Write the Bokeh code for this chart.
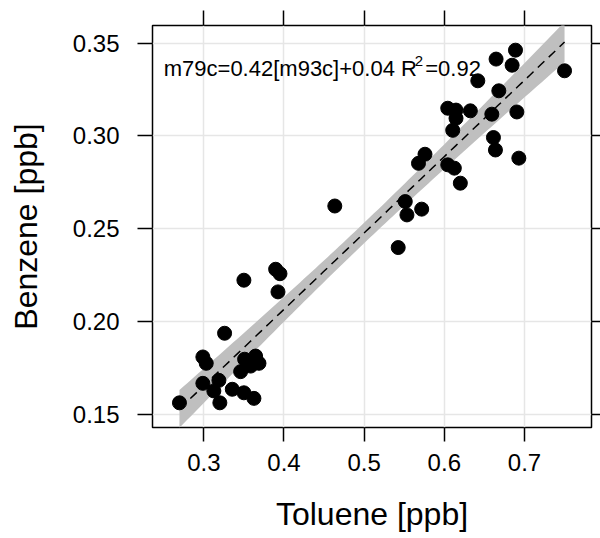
import numpy as np
from bokeh.plotting import figure
from bokeh.models import LinearAxis, Range1d, Label, CustomJSTickFormatter, FixedTicker, ColumnDataSource
from bokeh.embed import file_html
from bokeh.resources import INLINE

# Data
toluene = [0.6646, 0.6888, 0.6846, 0.7500, 0.6418, 0.6680, 0.6043, 0.6146, 0.6146, 0.6325,
           0.6593, 0.6905, 0.6105, 0.6613, 0.6638, 0.6930, 0.5759, 0.5678, 0.6043, 0.6125,
           0.6200, 0.4634, 0.5513, 0.5534, 0.5718, 0.5425, 0.3500, 0.3896, 0.3950, 0.3925,
           0.3259, 0.2988, 0.3030, 0.3509, 0.3646, 0.3688, 0.3584, 0.3459, 0.3188, 0.2988,
           0.3125, 0.3355, 0.3500, 0.3625, 0.3200, 0.2696]
benzene = [0.3414, 0.3462, 0.3381, 0.3351, 0.3297, 0.3243, 0.3149, 0.3139, 0.3095, 0.3135,
           0.3117, 0.3129, 0.3030, 0.2991, 0.2924, 0.2880, 0.2901, 0.2852, 0.2844, 0.2826,
           0.2745, 0.2622, 0.2646, 0.2574, 0.2605, 0.2398, 0.2222, 0.2281, 0.2257, 0.2159,
           0.1936, 0.1808, 0.1774, 0.1796, 0.1813, 0.1774, 0.1759, 0.1729, 0.1682, 0.1666,
           0.1625, 0.1634, 0.1615, 0.1585, 0.1561, 0.1561]
x_ticks = [0.3, 0.4, 0.5, 0.6, 0.7]
y_ticks = [0.15, 0.20, 0.25, 0.30, 0.35]
x_tick_labels = {0.3: "0.3", 0.4: "0.4", 0.5: "0.5", 0.6: "0.6", 0.7: "0.7"}
y_tick_labels = {0.15: "0.15", 0.2: "0.20", 0.25: "0.25", 0.3: "0.30", 0.35: "0.35"}
annotation_main = "m79c=0.42[m93c]+0.04 R"
annotation_sup = "2"
annotation_end = "=0.92"

x = np.array(toluene)
y = np.array(benzene)
n = len(x)

# linear fit with 95% confidence band
slope, intercept = np.polyfit(x, y, 1)
resid = y - (slope * x + intercept)
s = np.sqrt(np.sum(resid ** 2) / (n - 2))
xg = np.linspace(x.min(), x.max(), 100)
yg = slope * xg + intercept
se = s * np.sqrt(1.0 / n + (xg - x.mean()) ** 2 / np.sum((x - x.mean()) ** 2))
tval = 2.015
lower = yg - tval * se
upper = yg + tval * se

pad_x = 0.07 * (x.max() - x.min())
pad_y = 0.07 * (y.max() - y.min())

FONT = "Liberation Sans"

p = figure(width=600, height=538, output_backend="svg", toolbar_location=None,
           x_range=Range1d(x.min() - pad_x, x.max() + pad_x),
           y_range=Range1d(y.min() - pad_y, y.max() + pad_y),
           min_border_left=152, min_border_right=9, min_border_top=25, min_border_bottom=111,
           x_axis_label="Toluene [ppb]", y_axis_label="Benzene [ppb]")

p.outline_line_color = "black"
p.outline_line_width = 1.5
p.background_fill_color = "white"
p.border_fill_color = "white"

for ax, ticks, labels in ((p.xaxis[0], x_ticks, x_tick_labels), (p.yaxis[0], y_ticks, y_tick_labels)):
    ax.ticker = FixedTicker(ticks=ticks)
    ax.major_label_overrides = labels
    ax.axis_line_color = None
    ax.major_tick_line_color = "black"
    ax.major_tick_line_width = 1.5
    ax.major_tick_in = 0
    ax.minor_tick_line_color = None
    ax.major_label_text_font = FONT
    ax.major_label_text_font_size = "24px"
    ax.major_label_text_color = "black"
    ax.axis_label_text_font = FONT
    ax.axis_label_text_font_size = "32px"
    ax.axis_label_text_font_style = "normal"
    ax.axis_label_text_color = "black"

p.xaxis[0].major_tick_out = 14
p.xaxis[0].major_label_standoff = 12
p.xaxis[0].axis_label_standoff = 22
p.yaxis[0].major_tick_out = 15
p.yaxis[0].major_label_standoff = 18
p.yaxis[0].axis_label_standoff = 26

blank = CustomJSTickFormatter(code="return ''")
top = LinearAxis(ticker=FixedTicker(ticks=x_ticks), formatter=blank, axis_line_color=None,
                 major_tick_line_color="black", major_tick_line_width=1.5, major_tick_in=0,
                 major_tick_out=15, minor_tick_line_color=None, major_label_standoff=0,
                 major_label_text_font_size="1px")
right = LinearAxis(ticker=FixedTicker(ticks=y_ticks), formatter=blank, axis_line_color=None,
                   major_tick_line_color="black", major_tick_line_width=1.5, major_tick_in=0,
                   major_tick_out=9, minor_tick_line_color=None, major_label_standoff=0,
                   major_label_text_font_size="1px")
p.add_layout(top, "above")
p.add_layout(right, "right")

p.xgrid.ticker = FixedTicker(ticks=x_ticks)
p.ygrid.ticker = FixedTicker(ticks=y_ticks)
p.grid.grid_line_color = "#e6e6e6"
p.grid.grid_line_width = 1.5

band = ColumnDataSource(dict(x=xg, lo=lower, hi=upper, fit=yg))
p.varea(x="x", y1="lo", y2="hi", source=band, fill_color="#bfbfbf")
p.line(x="x", y="fit", source=band, line_color="black", line_width=1.5, line_dash="9 6")

pts = ColumnDataSource(dict(x=x, y=y))
p.scatter(x="x", y="y", source=pts, size=14, fill_color="black", line_color="black", marker="circle")

common = dict(text_font=FONT, text_color="black", text_baseline="alphabetic", text_align="left")
p.add_layout(Label(x=0.25, y=0.3364, text=annotation_main, text_font_size="22px", **common))
p.add_layout(Label(x=0.25, y=0.3364, x_offset=251, y_offset=7.5, text=annotation_sup,
                   text_font_size="15px", **common))
p.add_layout(Label(x=0.25, y=0.3364, x_offset=261.5, text=annotation_end, text_font_size="22px", **common))

open("out.html", "w").write(file_html(p, INLINE))
